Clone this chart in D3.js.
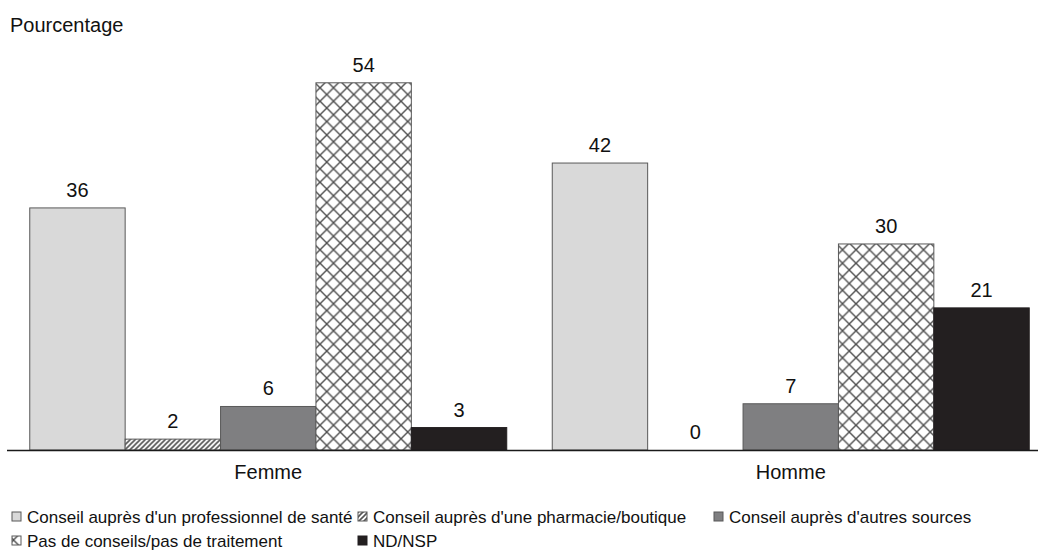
<!DOCTYPE html>
<html>
<head>
<meta charset="utf-8">
<script src="https://cdn.jsdelivr.net/npm/d3@7"></script>
<style>
  html, body { margin: 0; padding: 0; background: #fff; }
  svg { display: block; font-family: "Liberation Sans", Arial, sans-serif; }
</style>
</head>
<body>
<svg id="chart" width="1039" height="553"></svg>
<script>
const categories = ["Femme", "Homme"];
const seriesNames = [
  "Conseil auprès d'un professionnel de santé",
  "Conseil auprès d'une pharmacie/boutique",
  "Conseil auprès d'autres sources",
  "Pas de conseils/pas de traitement",
  "ND/NSP"
];
const femmeValues = [35.6, 1.6, 6.4, 54, 3.3];
const hommeValues = [42.2, 0, 6.8, 30.3, 20.9];
const yAxisTitle = "Pourcentage";

const valuesByCat = { "Femme": femmeValues, "Homme": hommeValues };
const fills = ["#d9d9d9", "url(#hatch)", "#7f7f81", "url(#cross)", "#231f20"];
const strokes = ["#595959", "#595959", "#595959", "#595959", "#231f20"];

const svg = d3.select("#chart");
const defs = svg.append("defs");

const hatch = defs.append("pattern").attr("id", "hatch")
  .attr("patternUnits", "userSpaceOnUse").attr("width", 5).attr("height", 5);
hatch.append("rect").attr("width", 5).attr("height", 5).attr("fill", "#fff");
hatch.append("path").attr("d", "M0,5 L5,0 M-1.25,1.25 L1.25,-1.25 M3.75,6.25 L6.25,3.75")
  .attr("stroke", "#555").attr("stroke-width", 1.6);

const cs = 13.5;
const cross = defs.append("pattern").attr("id", "cross")
  .attr("patternUnits", "userSpaceOnUse").attr("width", cs).attr("height", cs);
cross.append("rect").attr("width", cs).attr("height", cs).attr("fill", "#fff");
cross.append("path").attr("d", `M0,0 L${cs},${cs} M${cs},0 L0,${cs}`)
  .attr("stroke", "#4d4d4d").attr("stroke-width", 1.4);

const baseY = 450;
const x0 = d3.scaleBand().domain(categories).range([7, 1052]).paddingInner(0.0871).paddingOuter(0.04355);
const x1 = d3.scaleBand().domain(seriesNames).range([0, x0.bandwidth()]);
const y = d3.scaleLinear().domain([0, 60]).range([baseY, baseY - 408]);

// y axis title
svg.append("text").attr("x", 10).attr("y", 32)
  .attr("font-size", 20).attr("fill", "#111").text(yAxisTitle);

const groups = svg.selectAll("g.cat").data(categories).join("g")
  .attr("class", "cat")
  .attr("transform", d => `translate(${x0(d)},0)`);

groups.selectAll("rect").data(c => valuesByCat[c].map((v, i) => ({ v, i })))
  .join("rect")
  .attr("x", d => x1(seriesNames[d.i]))
  .attr("y", d => y(d.v))
  .attr("width", x1.bandwidth())
  .attr("height", d => baseY - y(d.v))
  .attr("fill", d => fills[d.i])
  .attr("stroke", d => d.v > 0 ? strokes[d.i] : "none")
  .attr("stroke-width", 1);

groups.selectAll("text.val").data(c => valuesByCat[c].map((v, i) => ({ v, i })))
  .join("text").attr("class", "val")
  .attr("x", d => x1(seriesNames[d.i]) + x1.bandwidth() / 2)
  .attr("y", d => y(d.v) - 11)
  .attr("text-anchor", "middle")
  .attr("font-size", 20).attr("fill", "#111")
  .text(d => d3.format(".0f")(d.v));

// x axis
const xAxis = d3.axisBottom(x0).tickSize(0).tickPadding(15);
const axG = svg.append("g").attr("transform", `translate(0,${baseY})`).call(xAxis);
axG.select(".domain").attr("d", "M7,0.5H1038").attr("stroke", "#1a1a1a").attr("stroke-width", 1.5);
axG.selectAll(".tick text").attr("font-size", 20).attr("fill", "#111")
  .attr("font-family", "Liberation Sans, Arial, sans-serif");

// legend
const legendCols = [12, 358, 714];
const legendRows = [523, 547];
const legendPos = [[0,0],[1,0],[2,0],[0,1],[1,1]];
const leg = svg.append("g");
seriesNames.forEach((name, i) => {
  const [c, r] = legendPos[i];
  const gx = legendCols[c], gy = legendRows[r];
  leg.append("rect").attr("x", gx).attr("y", gy - 11).attr("width", 9).attr("height", 9)
    .attr("fill", fills[i]).attr("stroke", strokes[i]).attr("stroke-width", 1);
  leg.append("text").attr("x", gx + 15).attr("y", gy)
    .attr("font-size", 17).attr("fill", "#111").text(name);
});
</script>
</body>
</html>
